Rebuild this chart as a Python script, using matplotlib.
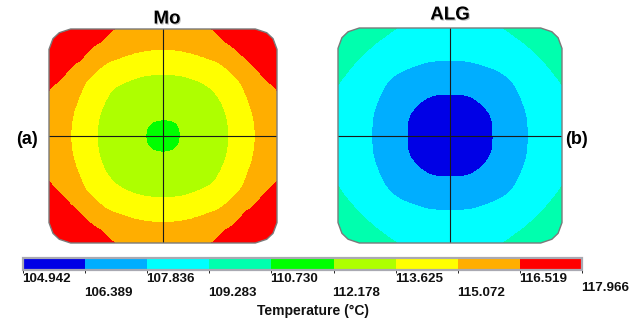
import numpy as np
import matplotlib
matplotlib.use("Agg")
import matplotlib.pyplot as plt
import matplotlib.cm as cm
import matplotlib.tri as mtri
import matplotlib.patheffects as pe
from matplotlib.colors import ListedColormap, BoundaryNorm
from matplotlib.patches import Polygon

# colour bands of the legend (deg C)
LEVELS = [104.942, 106.389, 107.836, 109.283, 110.730,
          112.178, 113.625, 115.072, 116.519, 117.966]
COLORS = ["#0000E6", "#00AEFF", "#00FFFF", "#00FFAE", "#00FF00",
          "#AEFF00", "#FFFF00", "#FFAE00", "#FF0000"]

MO_QUARTER = [
    [112.07, 112.20, 112.59, 113.25, 114.16, 115.21, 115.79],
    [112.20, 112.29, 112.66, 113.31, 114.24, 115.29, 115.89],
    [112.59, 112.66, 112.98, 113.62, 114.56, 115.58, 116.22],
    [113.25, 113.31, 113.62, 114.10, 115.00, 116.07, 116.80],
    [114.16, 114.24, 114.56, 115.00, 115.98, 116.75, 117.64],
    [115.21, 115.29, 115.58, 116.07, 116.75, 117.65, 117.90],
    [115.79, 115.89, 116.22, 116.80, 117.64, 117.90, 117.95],
]
ALG_QUARTER = [
    [105.75, 105.87, 106.23, 106.84, 107.68, 108.46, 108.90],
    [105.87, 105.95, 106.29, 106.89, 107.73, 108.49, 108.94],
    [106.23, 106.29, 106.62, 107.13, 107.96, 108.62, 109.08],
    [106.84, 106.89, 107.13, 107.62, 108.31, 108.87, 109.33],
    [107.68, 107.73, 107.96, 108.31, 108.78, 109.22, 109.69],
    [108.46, 108.49, 108.62, 108.87, 109.22, 109.66, 110.17],
    [108.90, 108.94, 109.08, 109.33, 109.69, 110.17, 110.65],
]

W, H = 631, 324
cmap = ListedColormap(COLORS)
norm = BoundaryNorm(LEVELS, len(COLORS))


def mirror(q):
    q = np.array(q)
    half = np.hstack([q[:, :0:-1], q])
    return np.vstack([half[:0:-1], half])


def plate_outline():
    # square with cut corners, going clockwise
    c = [(0.81, 1.0), (0.91, 0.965), (0.965, 0.91), (1.0, 0.81)]
    pts = []
    for _ in range(4):
        pts += c
        c = [(y, -x) for x, y in c]
    return pts


def draw_plate(rect, quarter):
    ax = fig.add_axes(rect)
    z = mirror(quarter)
    xs = np.linspace(-1, 1, z.shape[0])
    X, Y = np.meshgrid(xs, xs)
    tri = mtri.Triangulation(X.ravel(), Y.ravel())
    interp = mtri.CubicTriInterpolator(tri, z.ravel(), kind="geom")
    tri_f, z_f = mtri.UniformTriRefiner(tri).refine_field(z.ravel(), triinterpolator=interp, subdiv=3)
    z_f = np.clip(z_f, LEVELS[0] + 1e-3, LEVELS[-1] - 1e-3)

    verts = plate_outline()
    clip = Polygon(verts, closed=True, transform=ax.transData)
    cs = ax.tricontourf(tri_f, z_f, levels=LEVELS, cmap=cmap, norm=norm)
    cs.set_clip_path(clip)
    ax.add_patch(Polygon(verts, closed=True, fill=False, edgecolor="#7a7a7a",
                         lw=1.0, clip_on=False, zorder=5))
    ax.plot([-1, 1], [0, 0], color="#1a1a1a", lw=0.8, zorder=4)
    ax.plot([0, 0], [-1, 1], color="#1a1a1a", lw=0.8, zorder=4)
    ax.set_xlim(-1, 1)
    ax.set_ylim(-1, 1)
    ax.axis("off")
    return ax


def px(x, y):
    return x / W, 1 - y / H


fig = plt.figure(figsize=(W / 100, H / 100), dpi=100)
fig.patch.set_facecolor("white")

draw_plate([49 / W, 1 - 243 / H, 228 / W, 214 / H], MO_QUARTER)
draw_plate([338 / W, 1 - 243 / H, 224 / W, 215 / H], ALG_QUARTER)

shadow = [pe.SimplePatchShadow(offset=(0.8, -0.8), shadow_rgbFace="#888888", alpha=0.5),
          pe.Normal()]
fig.text(*px(167, 19), "Mo", ha="center", va="center", fontsize=13.5,
         fontweight="bold", family="Liberation Sans", path_effects=shadow)
fig.text(*px(450, 15), "ALG", ha="center", va="center", fontsize=13.5,
         fontweight="bold", family="Liberation Sans", path_effects=shadow)
fig.text(*px(27, 139), "(a)", ha="center", va="center", fontsize=13,
         fontweight="bold", family="Liberation Sans")
fig.text(*px(577, 139), "(b)", ha="center", va="center", fontsize=13,
         fontweight="bold", family="Liberation Sans")

# colour legend
cb_left, cb_right = 23, 582
cax = fig.add_axes([cb_left / W, 1 - 270 / H, (cb_right - cb_left) / W, 12 / H])
sm = cm.ScalarMappable(norm=norm, cmap=cmap)
cb = fig.colorbar(sm, cax=cax, orientation="horizontal")
cb.set_ticks([])
cb.outline.set_edgecolor("#a9a9b2")
cb.outline.set_linewidth(1.6)

step = (cb_right - cb_left) / (len(LEVELS) - 1)
for k, v in enumerate(LEVELS):
    if k == len(LEVELS) - 1:
        y = 288
    elif k % 2 == 0:
        y = 279
    else:
        y = 293
    fig.text(*px(cb_left + k * step - 1, y), f"{v:.3f}", ha="left", va="center",
             fontsize=9.6, fontweight="bold", family="Liberation Sans", color="#111111")

fig.text(*px(313, 311), "Temperature (°C)", ha="center", va="center", fontsize=10,
         fontweight="bold", family="Liberation Sans", color="#111111")

fig.savefig("out.png", dpi=100)
